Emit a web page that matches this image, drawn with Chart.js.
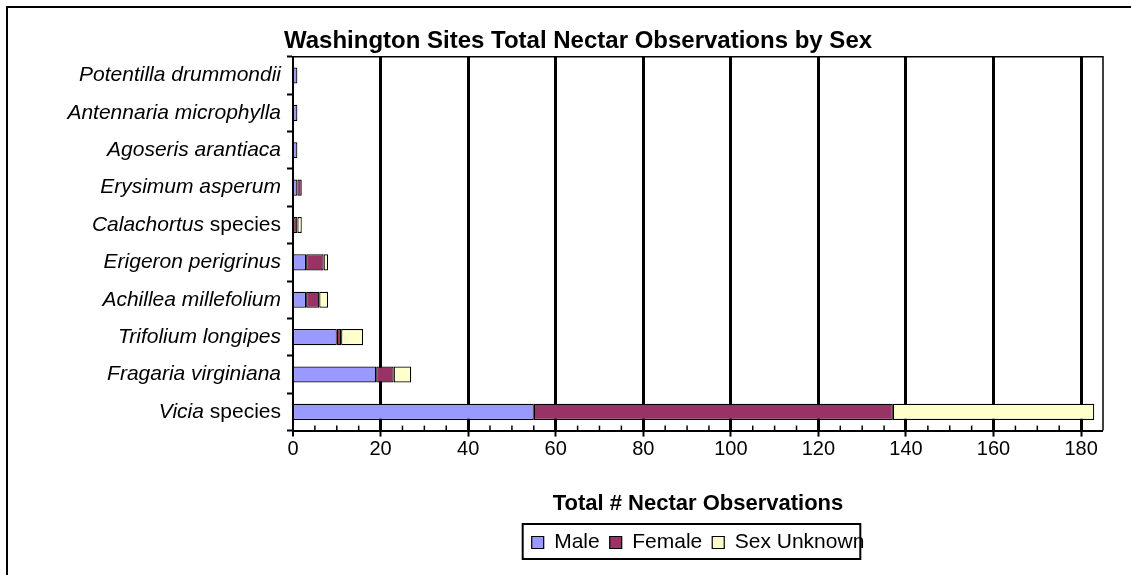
<!DOCTYPE html>
<html>
<head>
<meta charset="utf-8">
<script src="https://cdn.jsdelivr.net/npm/chart.js@4"></script>
<style>
  html, body { margin: 0; padding: 0; background: #fff; }
  #wrap { width: 1131px; height: 575px; position: relative; }
</style>
</head>
<body>
<div id="wrap"><canvas id="chart" width="1131" height="575"></canvas></div>
<script>
const FONT = "'Liberation Sans', Arial, sans-serif";

// plants, top to bottom as in the picture
const plants = [
  'Potentilla drummondii',
  'Antennaria microphylla',
  'Agoseris arantiaca',
  'Erysimum asperum',
  'Calachortus species',
  'Erigeron perigrinus',
  'Achillea millefolium',
  'Trifolium longipes',
  'Fragaria virginiana',
  'Vicia species'
];
const male    = [1, 1, 1, 1, 0, 3, 3, 10, 19, 55];
const female  = [0, 0, 0, 1, 1, 4, 3, 1, 4, 82];
const unknown = [0, 0, 0, 0, 1, 1, 2, 5, 4, 46];
const xTicks = [0, 20, 40, 60, 80, 100, 120, 140, 160, 180];
const xMax = 185;

const bar = (label, data, color) => ({
  label, data,
  backgroundColor: color,
  borderColor: '#000',
  borderWidth: 1.2,
  borderSkipped: false,
  barPercentage: 0.43,
  categoryPercentage: 1
});

// frame, plot border, minor ticks, mixed italic labels, legend box
const decor = {
  id: 'decor',
  afterDraw(chart) {
    const ctx = chart.ctx, a = chart.chartArea;
    const xs = chart.scales.x, ys = chart.scales.y;
    ctx.save();
    ctx.strokeStyle = '#000';

    ctx.lineWidth = 2;
    ctx.beginPath();
    ctx.moveTo(7, 575); ctx.lineTo(7, 7); ctx.lineTo(1131, 7);
    ctx.stroke();

    ctx.lineWidth = 1.5;
    ctx.beginPath();
    ctx.moveTo(a.left, a.top); ctx.lineTo(a.right, a.top); ctx.lineTo(a.right, a.bottom);
    ctx.stroke();

    for (let v = 5; v < xMax; v += 5) {
      if (v % 20 === 0) continue;
      const px = xs.getPixelForValue(v);
      ctx.beginPath();
      ctx.moveTo(px, a.bottom); ctx.lineTo(px, a.bottom - 5);
      ctx.stroke();
    }

    ctx.fillStyle = '#000';
    ctx.textBaseline = 'middle';
    ctx.textAlign = 'left';
    const italic = 'italic 21px ' + FONT, normal = '21px ' + FONT;
    plants.forEach((name, i) => {
      const y = ys.getPixelForValue(i);
      let main = name, rest = '';
      if (name.endsWith(' species')) { main = name.slice(0, -8); rest = ' species'; }
      ctx.font = italic;
      const w1 = ctx.measureText(main).width;
      ctx.font = normal;
      const w2 = ctx.measureText(rest).width;
      const x = a.left - 12 - w1 - w2;
      ctx.font = italic;
      ctx.fillText(main, x, y);
      ctx.font = normal;
      ctx.fillText(rest, x + w1, y);
    });

    const lg = chart.legend, hb = lg.legendHitBoxes;
    if (hb && hb.length) {
      const l = hb[0].left - 9;
      const last = hb[hb.length - 1];
      const r = last.left + last.width - 4;
      const t = lg.top + 2, b = lg.bottom - 4;
      ctx.lineWidth = 2;
      ctx.strokeRect(l, t, r - l, b - t);
    }
    ctx.restore();
  }
};

new Chart(document.getElementById('chart'), {
  type: 'bar',
  data: {
    labels: plants,
    datasets: [
      bar('Male', male, '#9999ff'),
      bar('Female', female, '#993366'),
      bar('Sex Unknown', unknown, '#ffffcc')
    ]
  },
  options: {
    indexAxis: 'y',
    responsive: false,
    animation: false,
    devicePixelRatio: 1,
    layout: { padding: { left: 53, right: 28, top: 10, bottom: 12 } },
    scales: {
      x: {
        stacked: true,
        min: 0,
        max: xMax,
        afterBuildTicks: s => { s.ticks = xTicks.map(v => ({ value: v })); },
        ticks: { color: '#000', font: { family: FONT, size: 20 }, padding: 1, maxRotation: 0 },
        grid: {
          color: '#000',
          lineWidth: c => (c.tick && c.tick.value === 0 ? 0 : 3),
          tickLength: 6, tickWidth: 2, tickColor: '#000'
        },
        border: { color: '#000', width: 2 },
        title: {
          display: true,
          text: 'Total # Nectar Observations',
          color: '#000',
          font: { family: FONT, size: 22, weight: 'bold' },
          padding: { top: 28, bottom: 5 }
        }
      },
      y: {
        stacked: true,
        afterFit: s => { s.width = 240; },
        ticks: { display: false },
        grid: {
          offset: true, drawOnChartArea: false,
          tickLength: 6, tickWidth: 2, tickColor: '#000'
        },
        border: { color: '#000', width: 2 }
      }
    },
    plugins: {
      title: {
        display: true,
        text: 'Washington Sites Total Nectar Observations by Sex',
        color: '#000',
        font: { family: FONT, size: 24, weight: 'bold' },
        padding: { top: 17, bottom: 1 }
      },
      legend: {
        position: 'bottom',
        fullSize: false,
        labels: {
          color: '#000',
          font: { family: FONT, size: 21 },
          boxWidth: 12, boxHeight: 12, padding: 10
        }
      },
      tooltip: { enabled: false }
    }
  },
  plugins: [decor]
});
</script>
</body>
</html>
